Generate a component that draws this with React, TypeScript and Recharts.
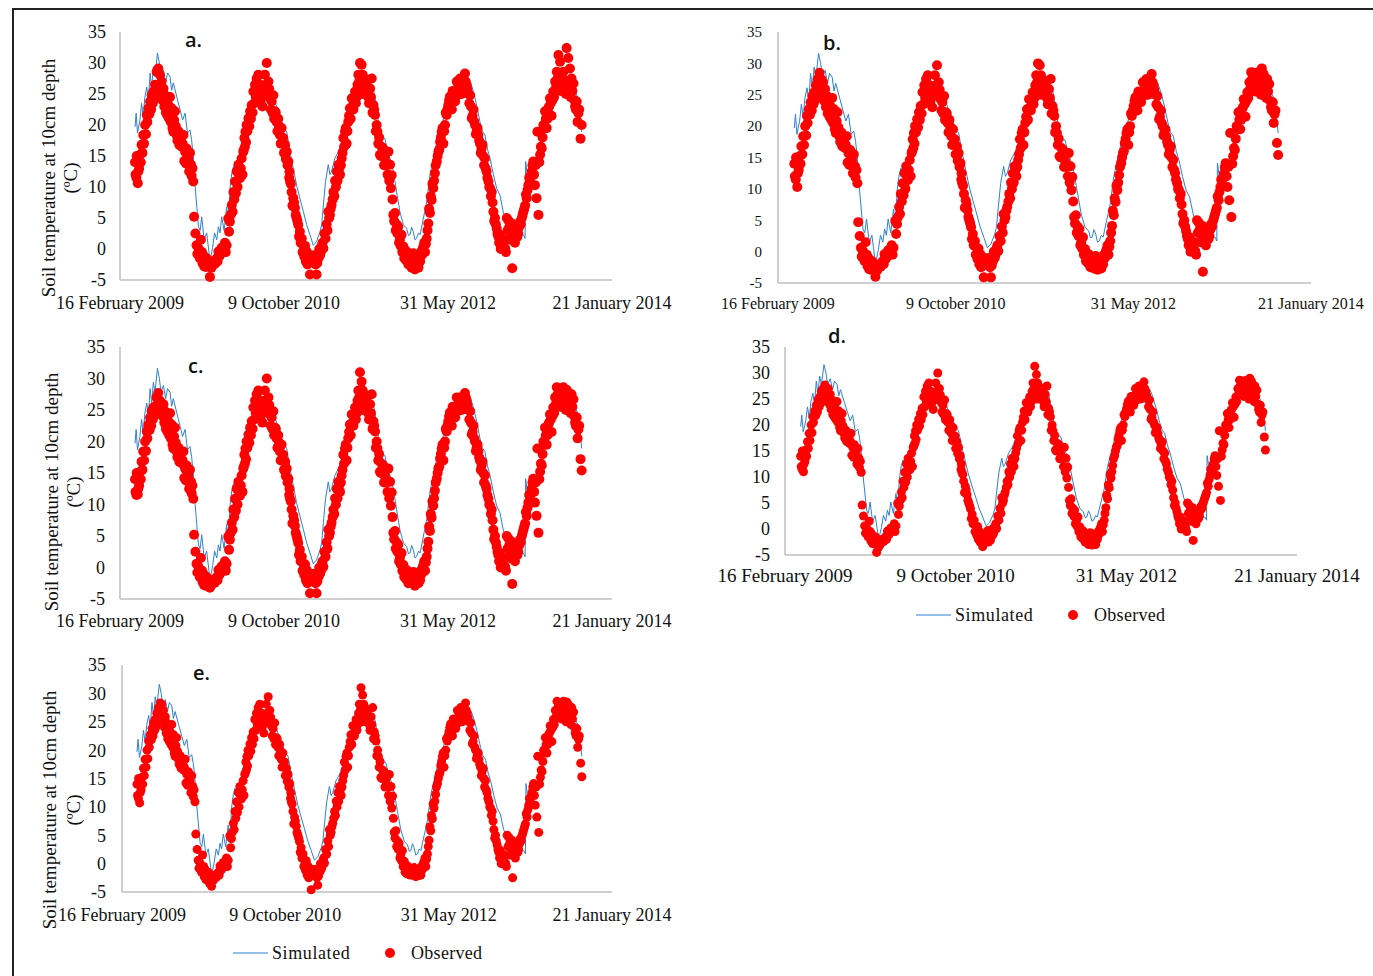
import React from "react";
import { ComposedChart, Line, Scatter, XAxis, YAxis } from "recharts";

const SERIF = '"Liberation Serif", "Times New Roman", serif';
const SANS = '"Open Sans", "Liberation Sans", sans-serif';
const SIM_BLUE = "#2F80D0";
const OBS_RED = "#FF0000";
const AXIS_GREY = "#BFBFBF";

// x axis: days since 16 February 2009, major unit 600 days
const dateTicks = [0, 600, 1200, 1800];
const dateLabels = ["16 February 2009", "9 October 2010", "31 May 2012", "21 January 2014"];
const tempTicks = [-5, 0, 5, 10, 15, 20, 25, 30, 35];

// simulated soil temperature at 10 cm, [day, °C]
const simulated: [number, number][] = [
  [55, 19.7], [59, 21.9], [64, 18.7], [73, 20.8], [79, 23.5], [85, 21.3], [91, 24.5], [98, 26.1],
  [104, 24.0], [110, 28.4], [116, 26.1], [122, 29.4], [128, 27.8], [137, 31.6], [144, 30.0], [150, 27.8],
  [159, 28.9], [167, 26.8], [174, 28.4], [183, 27.8], [189, 25.6], [195, 26.8], [208, 24.5], [220, 22.4],
  [229, 20.8], [238, 21.9], [247, 18.7], [256, 19.2], [262, 17.6], [268, 14.9], [275, 10.0], [281, 6.8],
  [287, 3.6], [293, 3.0], [299, 5.2], [308, 1.5], [317, 2.6], [326, -0.7], [330, -1.8], [339, 0.3],
  [346, 2.6], [354, 1.5], [360, 3.6], [366, 2.6], [372, 5.2], [381, 3.0], [390, 6.8], [396, 4.7],
  [403, 10.0], [409, 12.2], [415, 13.3], [421, 12.6], [427, 13.9], [433, 12.9], [439, 14.4], [451, 15.7],
  [463, 18.4], [476, 21.6], [488, 24.3], [500, 25.9], [510, 25.0], [518, 26.5], [527, 25.4], [536, 25.9],
  [545, 24.8], [555, 25.4], [567, 23.8], [579, 22.2], [588, 21.0], [597, 20.0], [605, 19.2], [610, 18.9],
  [622, 15.7], [634, 13.0], [646, 10.3], [658, 8.2], [671, 6.0], [683, 3.9], [695, 2.3], [707, 0.6],
  [713, 0.9], [719, 1.2], [732, 2.8], [738, 4.0], [744, 7.1], [752, 10.9], [762, 13.6], [768, 12.0],
  [774, 12.5], [786, 14.6], [799, 15.7], [811, 17.3], [823, 20.0], [835, 22.2], [853, 24.3], [872, 26.5],
  [890, 27.0], [902, 26.5], [915, 25.5], [927, 25.9], [939, 22.7], [951, 18.4], [960, 18.0], [969, 17.8],
  [978, 16.0], [988, 14.6], [1000, 12.5], [1012, 9.2], [1024, 6.0], [1037, 3.9], [1049, 3.3], [1055, 2.2],
  [1061, 2.3], [1067, 3.5], [1073, 2.8], [1079, 1.5], [1085, 1.7], [1092, 2.6], [1098, 2.3], [1110, 5.0],
  [1122, 7.6], [1134, 12.0], [1146, 14.6], [1159, 17.3], [1171, 18.4], [1183, 21.0], [1201, 23.2], [1220, 24.8],
  [1238, 25.9], [1256, 26.5], [1265, 27.5], [1274, 25.9], [1283, 26.8], [1293, 25.4], [1305, 23.2], [1317, 20.5],
  [1326, 19.0], [1335, 18.4], [1345, 16.0], [1354, 14.6], [1366, 12.0], [1378, 9.8], [1390, 8.7], [1402, 6.0],
  [1415, 4.4], [1427, 3.9], [1439, 3.3], [1457, 2.3], [1476, 2.3], [1482, 1.7], [1484, 14.1], [1490, 12.0],
  [1494, 12.5], [1500, 14.5], [1506, 12.8], [1512, 14.0], [1518, 13.6], [1531, 15.2], [1543, 17.8], [1555, 20.0],
  [1573, 22.2], [1592, 23.8], [1610, 27.0], [1628, 28.1], [1640, 27.5], [1653, 28.0], [1665, 25.4], [1677, 24.3],
  [1685, 21.0], [1689, 18.9],
];

// observation days (days since 16 Feb 2009), shared by every panel
const obsDays = [
  55, 57, 61, 65, 70, 73, 79, 85, 92, 98, 104, 110, 116, 122, 128, 134, 140, 146, 152, 159, 165, 171, 177, 183, 189, 195, 201, 207, 214, 220, 226, 232, 238, 244, 250, 256, 260, 265, 268,
  271, 276, 280, 287, 296, 300, 305, 311, 317, 322, 326, 329, 335, 341, 347, 354, 360, 366, 372, 378, 384, 390,
  396, 402, 409, 415, 421, 427, 433, 439, 445, 451, 455, 459, 463, 470, 476, 482, 488, 494, 500, 506, 512, 518, 524, 530, 537, 543, 549, 555, 561, 567, 573, 579, 585, 591, 597, 604, 610, 616, 620, 622, 628, 634, 640, 646, 652, 658, 665, 671,
  677, 683, 689, 695, 701, 713, 719, 726, 732, 738, 744, 752,
  756, 762, 768, 774, 781, 787, 793, 799, 805, 811, 817, 823, 829, 835, 841, 848, 854, 860, 866, 872, 878, 884, 888, 895, 902, 908, 915, 921, 927, 933, 939, 942, 945, 951, 957, 963, 969, 975, 982, 988, 991, 994,
  1000, 1006, 1012, 1018, 1024, 1030, 1037, 1043, 1049, 1055, 1061, 1067, 1073, 1079, 1085, 1092, 1098, 1104, 1110, 1116, 1122,
  1128, 1134, 1140, 1146, 1152, 1159, 1165, 1171, 1177, 1183, 1189, 1195, 1201, 1207, 1214, 1220, 1226, 1232, 1238, 1244, 1250, 1256, 1262, 1268, 1275, 1281, 1287, 1293, 1299, 1305, 1311, 1317, 1323, 1329, 1335, 1341, 1348, 1354, 1360, 1366, 1372, 1378, 1384,
  1390, 1396, 1402, 1409, 1415, 1421, 1427, 1433, 1435, 1439, 1445, 1451, 1457, 1463, 1470, 1476, 1482,
  1488, 1494, 1500, 1506, 1512, 1518, 1524, 1527, 1531, 1537, 1543, 1549, 1555, 1561, 1567, 1573, 1579, 1585, 1592, 1598, 1604, 1610, 1616, 1622, 1628, 1634, 1640, 1646, 1652, 1659, 1665, 1671, 1677, 1685, 1689,
];

const obsA = [
  14.0, 12.0, 15.0, 10.6, 13.0, 15.2, 16.8, 18.4, 20.0, 21.6, 22.7, 23.8, 24.8, 25.4, 26.5, 28.6, 29.1, 28.1, 27.0, 25.9, 24.8, 23.8, 23.2, 24.5, 22.7, 18.9, 22.2, 18.4, 19.0, 17.9, 16.5, 18.4, 15.7, 16.2, 14.6, 15.5, 13.6, 13.0, 10.9,
  5.2, 2.5, 0.6, 0.1, 1.5, -0.5, -1.0, -2.2, -1.5, -2.8, -2.6, -4.5, -3.0, -2.0, -2.4, -1.5, -0.4, -1.0, 0.2, 0.1, 1.0, 0.6,
  4.9, 4.4, 7.1, 9.2, 10.9, 12.5, 13.6, 11.4, 14.6, 15.7, 17.9, 18.9, 20.0, 21.1, 22.2, 23.2, 25.4, 26.5, 27.5, 28.1, 26.5, 25.4, 24.8, 28.1, 30.0, 27.0, 24.3, 23.8, 24.8, 22.2, 20.5, 21.0, 18.4, 19.5, 17.9, 16.8, 15.7, 14.1, 12.5, 10.9, 9.2, 8.2, 6.6, 5.0, 3.9, 2.8, 1.7, 0.6,
  0.5, -0.4, -1.5, -4.1, -2.0, -1.0, -4.1, -1.5, -1.0, 0.5, 0.1, 1.7,
  4.0, 6.0, 5.5, 7.1, 9.2, 11.0, 12.5, 13.6, 12.0, 14.6, 17.9, 18.9, 17.0, 20.5, 22.7, 24.3, 22.5, 25.4, 24.5, 28.1, 30.0, 29.7, 28.1, 26.0, 27.0, 24.5, 25.9, 27.5, 23.2, 21.6, 20.0, 18.9, 17.0, 15.2, 16.5, 16.2, 14.6, 13.5, 15.7, 13.6, 9.8, 11.9,
  5.5, 5.8, 4.0, 3.6, 1.5, 2.3, 0.4, -1.0, -0.4, -2.5, -1.5, -3.0, -0.7, -3.3, -2.0, -3.0, -2.0, -1.0, 0.4, -0.5, 1.7,
  4.1, 5.8, 7.9, 9.8, 12.2, 14.1, 15.7, 17.3, 18.9, 17.0, 20.0, 21.6, 23.2, 24.6, 22.5, 25.4, 23.8, 27.0, 26.0, 27.5, 25.0, 26.5, 28.3, 26.5, 25.0, 24.8, 21.1, 22.5, 20.0, 19.0, 18.4, 17.0, 16.2, 15.0, 14.6, 12.5, 10.9, 9.8, 9.2, 6.0, 5.0, 3.3, 2.0,
  2.3, 0.4, 1.0, 0.1, 5.0, 4.6, 1.5, 4.1, -3.1, 2.3, 1.0, 3.3, 2.5, 4.4, 5.0, 6.0, 7.0,
  8.2, 10.3, 10.9, 12.5, 14.1, 10.3, 8.2, 18.9, 5.5, 15.2, 16.2, 20.0, 22.2, 19.5, 22.7, 24.3, 21.5, 25.4, 27.0, 28.6, 31.3, 30.2, 27.0, 28.6, 26.0, 32.4, 30.8, 29.1, 27.5, 26.7, 23.0, 23.8, 21.9, 17.8, 20.0,
];

const obsB = [
  14.0, 12.0, 15.0, 10.3, 13.0, 15.2, 16.8, 18.4, 20.0, 21.6, 22.7, 23.8, 24.8, 25.4, 26.5, 27.5, 28.5, 27.5, 27.0, 25.9, 24.8, 23.8, 23.2, 24.5, 22.7, 18.9, 22.2, 18.4, 19.0, 17.9, 16.5, 18.4, 15.7, 16.2, 14.6, 15.5, 13.6, 13.0, 10.9,
  4.7, 2.5, 0.6, 0.1, 1.5, -0.5, -1.0, -2.2, -1.5, -2.8, -2.6, -4.0, -3.0, -2.0, -2.4, -1.5, -0.4, -1.0, 0.2, 0.1, 1.0, 0.6,
  4.9, 4.4, 7.1, 9.2, 10.9, 12.5, 13.6, 11.4, 14.6, 15.7, 17.9, 18.9, 20.0, 21.1, 22.2, 23.2, 25.4, 26.5, 27.5, 28.1, 26.5, 25.4, 24.8, 28.1, 29.7, 27.0, 24.3, 23.8, 24.8, 22.2, 20.5, 21.0, 18.4, 19.5, 17.9, 16.8, 15.7, 14.1, 12.5, 10.9, 9.2, 8.2, 6.6, 5.0, 3.9, 2.8, 1.7, 0.6,
  0.5, -0.4, -1.5, -4.1, -2.0, -1.0, -4.1, -1.5, -1.0, 0.5, 0.1, 1.7,
  4.0, 6.0, 5.5, 7.1, 9.2, 11.0, 12.5, 13.6, 12.0, 14.6, 17.9, 18.9, 17.0, 20.5, 22.7, 24.3, 22.5, 25.4, 24.5, 28.1, 30.0, 29.7, 28.1, 26.0, 27.0, 24.5, 25.9, 27.5, 23.2, 21.6, 20.0, 18.9, 17.0, 15.2, 16.5, 16.2, 14.6, 13.5, 15.7, 13.6, 9.8, 11.9,
  5.5, 5.8, 4.0, 3.6, 1.5, 2.3, 0.4, -1.0, -0.4, -2.5, -1.5, -2.7, -0.7, -2.9, -2.0, -2.7, -2.0, -1.0, 0.4, -0.5, 1.7,
  4.1, 5.8, 7.9, 9.8, 12.2, 14.1, 15.7, 17.3, 18.9, 17.0, 20.0, 21.6, 23.2, 24.6, 22.5, 25.4, 23.8, 27.0, 26.0, 27.5, 25.0, 26.5, 28.3, 26.5, 25.0, 24.8, 21.1, 22.5, 20.0, 19.0, 18.4, 17.0, 16.2, 15.0, 14.6, 12.5, 10.9, 9.8, 9.2, 6.0, 5.0, 3.3, 2.0,
  2.3, 0.4, 1.0, 0.1, 5.0, 4.6, 1.5, 4.1, -3.2, 2.3, 1.0, 3.3, 2.5, 4.4, 5.0, 6.0, 7.0,
  8.2, 10.3, 10.9, 12.5, 14.1, 10.3, 8.2, 18.9, 5.5, 15.2, 16.2, 20.0, 22.2, 19.5, 22.7, 24.3, 21.5, 25.4, 27.0, 28.6, 28.5, 27.8, 27.0, 28.6, 26.0, 29.2, 28.3, 27.5, 27.5, 26.7, 23.0, 23.8, 21.9, 17.3, 15.4,
];

const obsC = [
  14.0, 12.0, 15.0, 11.6, 13.0, 15.2, 16.8, 18.4, 20.0, 21.6, 22.7, 23.8, 24.8, 25.4, 25.5, 27.0, 27.7, 26.5, 26.0, 25.9, 24.8, 23.8, 23.2, 24.5, 22.7, 18.9, 22.2, 18.4, 19.0, 17.9, 16.5, 18.4, 15.7, 16.2, 14.6, 15.5, 13.6, 13.0, 10.9,
  5.2, 2.5, 0.6, 0.1, 1.5, -0.5, -1.0, -1.8, -1.5, -2.0, -2.6, -3.2, -2.5, -2.0, -2.4, -1.5, -0.4, -1.0, 0.2, 0.1, 1.0, 0.6,
  4.9, 4.4, 7.1, 9.2, 10.9, 12.5, 13.6, 11.4, 14.6, 15.7, 17.9, 18.9, 20.0, 21.1, 22.2, 23.2, 25.4, 26.5, 27.5, 28.1, 26.5, 25.4, 24.8, 28.1, 30.0, 27.0, 24.3, 23.8, 24.8, 22.2, 20.5, 21.0, 18.4, 19.5, 17.9, 16.8, 15.7, 14.1, 12.5, 10.9, 9.2, 8.2, 6.6, 5.0, 3.9, 2.8, 1.7, 0.6,
  0.5, -0.4, -1.5, -4.1, -2.0, -1.0, -4.1, -1.5, -1.0, 0.5, 0.1, 1.7,
  4.0, 6.0, 5.5, 7.1, 9.2, 11.0, 12.5, 13.6, 12.0, 14.6, 17.9, 18.9, 17.0, 20.5, 22.7, 24.3, 22.5, 25.4, 24.5, 28.1, 31.0, 29.5, 28.1, 26.0, 27.0, 24.5, 25.9, 27.5, 23.2, 21.6, 20.0, 18.9, 17.0, 15.2, 16.5, 16.2, 14.6, 13.5, 15.7, 13.6, 9.8, 11.9,
  5.5, 5.8, 4.0, 3.6, 1.5, 2.3, 0.4, -1.0, -0.4, -2.5, -1.5, -2.5, -0.7, -2.9, -2.0, -2.5, -2.0, -1.0, 0.4, -0.5, 1.7,
  4.1, 5.8, 7.9, 9.8, 12.2, 14.1, 15.7, 17.3, 18.9, 17.0, 20.0, 21.6, 23.2, 24.6, 22.5, 25.4, 23.8, 27.0, 26.0, 27.0, 25.0, 26.5, 27.7, 26.5, 25.0, 24.8, 21.1, 22.5, 20.0, 19.0, 18.4, 17.0, 16.2, 15.0, 14.6, 12.5, 10.9, 9.8, 9.2, 6.0, 5.0, 3.3, 2.0,
  2.3, 0.4, 1.0, 0.1, 5.0, 4.6, 1.5, 4.1, -2.6, 2.3, 1.0, 3.3, 2.5, 4.4, 5.0, 6.0, 7.0,
  8.2, 10.3, 10.9, 12.5, 14.1, 10.3, 8.2, 18.9, 5.5, 15.2, 16.2, 20.0, 22.2, 19.5, 22.7, 24.3, 21.5, 25.4, 27.0, 28.6, 27.5, 27.0, 27.0, 28.6, 26.0, 28.2, 27.8, 26.5, 27.5, 26.7, 23.0, 23.8, 21.9, 17.2, 15.4,
];

const obsD = [
  14.0, 12.0, 15.0, 11.0, 13.0, 15.2, 16.8, 18.4, 20.0, 21.6, 22.7, 23.8, 24.8, 25.4, 26.5, 27.0, 27.7, 26.5, 27.0, 25.9, 24.8, 23.8, 23.2, 24.5, 22.7, 18.9, 22.2, 18.4, 19.0, 17.9, 16.5, 18.4, 15.7, 16.2, 14.6, 15.5, 13.6, 13.0, 10.9,
  4.6, 2.5, 0.6, 0.1, 1.5, -0.5, -1.0, -2.2, -1.5, -4.5, -3.0, -3.5, -3.0, -2.0, -2.4, -1.5, -0.4, -1.0, 0.2, 0.1, 1.0, 0.6,
  4.9, 4.4, 7.1, 9.2, 10.9, 12.5, 13.6, 11.4, 14.6, 15.7, 17.9, 18.9, 20.0, 21.1, 22.2, 23.2, 25.4, 26.5, 27.5, 28.1, 26.5, 25.4, 24.8, 28.1, 30.0, 27.0, 24.3, 23.8, 24.8, 22.2, 20.5, 21.0, 18.4, 19.5, 17.9, 16.8, 15.7, 14.1, 12.5, 10.9, 9.2, 8.2, 6.6, 5.0, 3.9, 2.8, 1.7, 0.6,
  0.5, -0.4, -1.5, -3.4, -2.0, -0.3, -1.0, -1.5, -1.0, 0.5, 0.1, 1.7,
  4.0, 6.0, 5.5, 7.1, 9.2, 11.0, 12.5, 13.6, 12.0, 14.6, 17.9, 18.9, 17.0, 20.5, 22.7, 24.3, 22.5, 25.4, 24.5, 28.1, 31.3, 29.7, 28.1, 26.0, 27.0, 24.5, 25.9, 27.5, 23.2, 21.6, 20.0, 18.9, 17.0, 15.2, 16.5, 16.2, 14.6, 13.5, 15.7, 13.6, 9.8, 11.9,
  5.5, 5.8, 4.0, 3.6, 1.5, 2.3, 0.4, -1.0, -0.4, -2.5, -1.5, -3.0, -0.7, -3.1, -2.0, -3.0, -2.0, -1.0, 0.4, -0.5, 1.7,
  4.1, 5.8, 7.9, 9.8, 12.2, 14.1, 15.7, 17.3, 18.9, 17.0, 20.0, 21.6, 23.2, 24.6, 22.5, 25.4, 23.8, 27.0, 26.0, 27.5, 25.0, 26.5, 28.3, 26.5, 25.0, 24.8, 21.1, 22.5, 20.0, 19.0, 18.4, 17.0, 16.2, 15.0, 14.6, 12.5, 10.9, 9.8, 9.2, 6.0, 5.0, 3.3, 2.0,
  2.3, 0.4, 1.0, 0.1, 5.0, 4.6, 1.5, 4.1, -2.2, 2.3, 1.0, 3.3, 2.5, 4.4, 5.0, 6.0, 7.0,
  8.2, 10.3, 10.9, 12.5, 14.1, 10.3, 8.2, 18.9, 5.5, 15.2, 16.2, 20.0, 22.2, 19.5, 22.7, 24.3, 21.5, 25.4, 27.0, 28.6, 28.5, 28.0, 27.0, 28.6, 26.0, 29.0, 28.4, 27.0, 27.5, 26.7, 23.0, 23.8, 21.9, 17.7, 15.2,
];

const obsE = [
  14.0, 12.0, 15.0, 10.7, 13.0, 15.2, 16.8, 18.4, 20.0, 21.6, 22.7, 23.8, 24.8, 25.4, 26.5, 27.5, 28.3, 28.1, 27.0, 25.9, 24.8, 23.8, 23.2, 24.5, 22.7, 18.9, 22.2, 18.4, 19.0, 17.9, 16.5, 18.4, 15.7, 16.2, 14.6, 15.5, 13.6, 13.0, 10.9,
  5.2, 2.5, 0.6, 0.1, 1.5, -0.5, -1.0, -2.2, -1.5, -3.5, -2.6, -4.0, -3.0, -2.0, -2.4, -1.5, -0.4, -1.0, 0.2, 0.1, 1.0, 0.6,
  4.9, 4.4, 7.1, 9.2, 10.9, 12.5, 13.6, 11.4, 14.6, 15.7, 17.9, 18.9, 20.0, 21.1, 22.2, 23.2, 25.4, 26.5, 27.5, 28.1, 26.5, 25.4, 24.8, 28.1, 29.4, 27.0, 24.3, 23.8, 24.8, 22.2, 20.5, 21.0, 18.4, 19.5, 17.9, 16.8, 15.7, 14.1, 12.5, 10.9, 9.2, 8.2, 6.6, 5.0, 3.9, 2.8, 1.7, 0.6,
  0.5, -0.4, -1.5, -4.6, -2.0, -1.0, -3.8, -1.5, -1.0, 0.5, 0.1, 1.7,
  4.0, 6.0, 5.5, 7.1, 9.2, 11.0, 12.5, 13.6, 12.0, 14.6, 17.9, 18.9, 17.0, 20.5, 22.7, 24.3, 22.5, 25.4, 24.5, 28.1, 31.0, 29.7, 28.1, 26.0, 27.0, 24.5, 25.9, 27.5, 23.2, 21.6, 20.0, 18.9, 17.0, 15.2, 16.5, 16.2, 14.6, 13.5, 15.7, 13.6, 9.8, 11.9,
  5.5, 5.8, 4.0, 3.6, 1.5, 2.3, 0.4, -1.0, -0.4, -1.8, -1.5, -2.0, -0.7, -2.3, -1.5, -2.0, -2.0, -1.0, 0.4, -0.5, 1.7,
  4.1, 5.8, 7.9, 9.8, 12.2, 14.1, 15.7, 17.3, 18.9, 17.0, 20.0, 21.6, 23.2, 24.6, 22.5, 25.4, 23.8, 27.0, 26.0, 27.5, 25.0, 26.5, 28.3, 26.5, 25.0, 24.8, 21.1, 22.5, 20.0, 19.0, 18.4, 17.0, 16.2, 15.0, 14.6, 12.5, 10.9, 9.8, 9.2, 6.0, 5.0, 3.3, 2.0,
  2.3, 0.4, 1.0, 0.1, 5.0, 4.6, 1.5, 4.1, -2.5, 2.3, 1.0, 3.3, 2.5, 4.4, 5.0, 6.0, 7.0,
  8.2, 10.3, 10.9, 12.5, 14.1, 10.3, 8.2, 18.9, 5.5, 15.2, 16.2, 20.0, 22.2, 19.5, 22.7, 24.3, 21.5, 25.4, 27.0, 28.6, 28.0, 27.5, 27.0, 28.6, 26.0, 28.5, 28.0, 27.0, 27.5, 26.7, 23.0, 23.8, 21.9, 17.7, 15.3,
];

// further observations inside the dense part of each season, common to all panels, [day, °C]
const obsDense: [number, number][] = [
  [60, 11.5], [67, 12.5], [76, 14.0], [82, 15.5], [88, 17.0], [95, 18.5],
  [100, 20.5], [108, 21.8], [114, 22.5], [120, 23.5], [126, 24.2], [132, 25.0], [138, 26.0], [144, 25.2], [150, 25.8],
  [156, 24.0], [162, 23.0], [168, 22.0], [174, 21.5], [180, 21.0], [186, 20.5], [192, 19.5], [198, 20.8], [204, 19.8],
  [210, 17.5], [217, 16.8], [223, 18.0], [229, 17.0], [235, 14.2], [241, 13.8], [247, 15.0], [253, 12.5], [262, 11.8],
  [283, -0.8], [292, -1.5], [302, -2.3], [308, -2.8], [314, -2.9], [320, -2.7], [332, -2.9], [338, -2.6], [344, -2.2],
  [350, -1.8], [357, -2.0], [363, -1.2], [369, -0.2], [375, -0.5], [381, 0.0], [387, -0.5],
  [399, 2.8], [405, 5.5], [412, 6.0], [418, 8.0], [424, 9.0], [430, 10.0], [436, 12.0], [442, 13.0], [448, 12.0],
  [453, 16.0], [457, 16.5], [461, 17.2], [466, 19.0], [473, 19.8], [479, 21.0], [485, 22.0], [491, 23.5], [497, 24.5],
  [503, 25.2], [509, 25.0], [515, 24.0], [521, 23.0], [527, 26.0], [533, 26.5], [540, 25.5], [546, 25.8], [552, 22.5],
  [558, 22.0], [564, 21.0], [570, 22.0], [576, 19.0], [582, 19.8], [588, 17.0], [594, 17.2], [600, 15.5], [607, 14.5],
  [613, 13.5], [619, 11.5], [625, 10.5], [631, 7.0], [637, 7.5], [643, 5.5], [649, 4.5], [655, 2.0], [661, 1.0],
  [668, -0.5], [674, -1.2], [680, -2.0], [686, -2.5],
  [692, -2.0], [698, -1.0], [707, -1.5], [716, -2.5], [722, -2.2], [729, 0.0], [735, -0.5], [741, 1.0], [748, 2.5],
  [759, 3.0], [765, 5.0], [771, 6.5], [778, 8.0], [784, 8.5], [790, 10.0], [796, 11.0], [802, 13.0], [808, 13.5],
  [814, 15.5], [820, 16.5], [826, 19.5], [832, 19.0], [838, 21.5], [844, 21.0], [851, 23.0], [857, 24.0], [863, 23.5],
  [869, 26.5], [875, 27.0], [881, 26.0], [886, 25.0], [892, 27.5], [899, 25.0], [905, 26.0], [911, 23.5], [918, 24.5],
  [924, 22.0], [930, 22.5], [936, 19.0], [948, 18.0], [954, 15.0], [960, 15.5], [966, 13.5], [972, 14.0], [979, 12.0],
  [985, 11.0], [997, 8.0],
  [1003, 4.5], [1009, 3.0], [1015, 2.5], [1021, 1.0], [1027, 0.5], [1033, -0.5], [1040, -1.5], [1046, -1.8], [1052, -1.2],
  [1058, -2.0], [1064, -1.0], [1070, -2.0], [1076, -1.5], [1082, -2.2], [1088, -1.0], [1095, -2.0], [1101, -0.5],
  [1107, 0.0], [1113, 1.0], [1119, 0.8], [1125, 3.0],
  [1131, 6.5], [1137, 8.5], [1143, 10.5], [1149, 11.0], [1155, 13.5], [1162, 15.0], [1168, 16.0], [1174, 18.0],
  [1180, 19.5], [1186, 19.0], [1192, 22.0], [1198, 22.5], [1204, 24.0], [1210, 23.5], [1217, 25.5], [1223, 24.5],
  [1229, 25.5], [1235, 24.8], [1241, 26.0], [1247, 26.0], [1253, 27.0], [1259, 25.5], [1265, 27.0], [1271, 25.8],
  [1278, 23.5], [1284, 23.0], [1290, 21.5], [1296, 20.5], [1302, 18.5], [1308, 19.5], [1314, 17.5], [1320, 15.5],
  [1326, 16.8], [1332, 13.5], [1338, 13.0], [1344, 11.5], [1351, 10.0], [1357, 8.5], [1363, 7.5], [1369, 4.5],
  [1375, 4.0], [1381, 2.5], [1387, 1.0],
  [1393, 0.0], [1399, 0.5], [1405, 1.5], [1412, -0.5], [1418, 3.0], [1424, 3.5], [1430, 2.5], [1442, 1.8], [1448, 2.5],
  [1454, 2.0], [1460, 3.5], [1466, 4.0], [1473, 5.5], [1479, 6.5], [1485, 8.8],
  [1491, 9.5], [1497, 11.5], [1503, 11.8], [1509, 13.5], [1515, 12.0], [1521, 13.5], [1534, 14.0], [1540, 16.5],
  [1546, 18.0], [1552, 19.5], [1558, 21.0], [1564, 21.0], [1570, 23.0], [1576, 23.5], [1582, 24.0], [1588, 24.5],
  [1595, 26.0], [1601, 27.5], [1607, 26.5], [1613, 25.5], [1619, 27.5], [1625, 27.0], [1631, 25.0], [1637, 27.0],
  [1643, 26.0], [1649, 24.5], [1655, 25.5], [1662, 24.0], [1668, 22.5], [1674, 20.5], [1680, 22.5],
];

type PanelCfg = {
  temps: number[];
  x0: number; x1: number; yTop: number; yBot: number;
  yFont: number; yGap: number; xFont: number; xGap: number; r: number;
};

const panels: PanelCfg[] = [
  { temps: obsA, x0: 120, x1: 612, yTop: 32, yBot: 280, yFont: 18, yGap: 14, xFont: 18, xGap: 16, r: 5 },
  { temps: obsB, x0: 778, x1: 1311, yTop: 32, yBot: 283, yFont: 15, yGap: 16, xFont: 16, xGap: 15, r: 5 },
  { temps: obsC, x0: 120, x1: 612, yTop: 347, yBot: 599, yFont: 18, yGap: 15, xFont: 18, xGap: 15, r: 5 },
  { temps: obsD, x0: 785, x1: 1297, yTop: 347, yBot: 555, yFont: 18, yGap: 15, xFont: 19, xGap: 14, r: 4.5 },
  { temps: obsE, x0: 122, x1: 612, yTop: 665, yBot: 892, yFont: 18, yGap: 16, xFont: 18, xGap: 16, r: 4.5 },
];

const letters = [
  { t: "a.", x: 185, y: 47 },
  { t: "b.", x: 823, y: 50 },
  { t: "c.", x: 188, y: 373 },
  { t: "d.", x: 828, y: 343 },
  { t: "e.", x: 193, y: 680 },
];

// rotated y titles: centre of line 1 and line 2
const yTitles = [
  { x1: 48, x2: 70, y: 178 },
  { x1: 51, x2: 73, y: 492 },
  { x1: 49, x2: 73, y: 810 },
];

const legends = [
  { x: 916, y: 615 },
  { x: 233, y: 953 },
];

const simData = simulated.map(([d, t]) => ({ d, t }));
const denseData = obsDense.map(([d, t]) => ({ d, t }));

const ML = 20;
const YW = 60;
const MR = 70;
const MT = 10;
const XH = 40;

function Panel({ p }: { p: PanelCfg }) {
  const w = p.x1 - p.x0 + ML + YW + MR;
  const h = p.yBot - p.yTop + MT + XH;
  const obs = [...obsDays.map((d, i) => ({ d, t: p.temps[i] })), ...denseData];
  const dot = (props: any) => <circle cx={props.cx} cy={props.cy} r={p.r} fill={OBS_RED} />;

  return (
    <div style={{ position: "absolute", left: p.x0 - ML - YW, top: p.yTop - MT }}>
      <ComposedChart width={w} height={h} margin={{ top: MT, right: MR, left: ML, bottom: 0 }}>
        <XAxis
          dataKey="d"
          type="number"
          domain={[0, 1800]}
          ticks={dateTicks}
          interval={0}
          height={XH}
          tickFormatter={(v) => dateLabels[dateTicks.indexOf(v)]}
          tickLine={false}
          tickSize={0}
          tickMargin={p.xGap}
          axisLine={{ stroke: AXIS_GREY, strokeWidth: 1.5 }}
          tick={{ fill: "#111", fontSize: p.xFont, fontFamily: SERIF }}
        />
        <YAxis
          dataKey="t"
          type="number"
          domain={[-5, 35]}
          ticks={tempTicks}
          interval={0}
          width={YW}
          tickLine={false}
          tickSize={0}
          tickMargin={p.yGap}
          axisLine={{ stroke: AXIS_GREY, strokeWidth: 1.5 }}
          tick={{ fill: "#111", fontSize: p.yFont, fontFamily: SERIF }}
        />
        <Line
          data={simData}
          dataKey="t"
          type="linear"
          stroke={SIM_BLUE}
          strokeWidth={1}
          dot={false}
          activeDot={false}
          isAnimationActive={false}
        />
        <Scatter data={obs} dataKey="t" fill={OBS_RED} shape={dot} isAnimationActive={false} />
      </ComposedChart>
    </div>
  );
}

export default function App() {
  return (
    <div
      style={{
        position: "absolute",
        left: 0,
        top: 0,
        width: 1373,
        height: 976,
        overflow: "hidden",
        background: "#fff",
      }}
    >
      {panels.map((p, i) => (
        <Panel key={i} p={p} />
      ))}
      <svg
        width={1373}
        height={976}
        style={{ position: "absolute", left: 0, top: 0, pointerEvents: "none" }}
      >
        <line x1={12} y1={9} x2={1373} y2={9} stroke="#222" strokeWidth={2} />
        <line x1={13} y1={8} x2={13} y2={976} stroke="#222" strokeWidth={2} />

        {letters.map((l) => (
          <text key={l.t} x={l.x} y={l.y} fontFamily={SANS} fontSize={20} fontWeight={600} fill="#111">
            {l.t}
          </text>
        ))}

        {yTitles.map((t, i) => (
          <g key={i} fontFamily={SERIF} fontSize={19} fill="#111" textAnchor="middle">
            <text transform={`translate(${t.x1},${t.y}) rotate(-90)`} dominantBaseline="central">
              Soil temperature at 10cm depth
            </text>
            <text transform={`translate(${t.x2},${t.y}) rotate(-90)`} dominantBaseline="central">
              (ºC)
            </text>
          </g>
        ))}

        {legends.map((g, i) => (
          <g key={i} fontFamily={SERIF} fontSize={18} fill="#111">
            <line x1={g.x} y1={g.y} x2={g.x + 35} y2={g.y} stroke={SIM_BLUE} strokeWidth={1} />
            <text x={g.x + 39} y={g.y} dominantBaseline="central" letterSpacing={0.6}>
              Simulated
            </text>
            <circle cx={g.x + 157} cy={g.y} r={5} fill={OBS_RED} />
            <text x={g.x + 178} y={g.y} dominantBaseline="central" letterSpacing={0.3}>
              Observed
            </text>
          </g>
        ))}
      </svg>
    </div>
  );
}
